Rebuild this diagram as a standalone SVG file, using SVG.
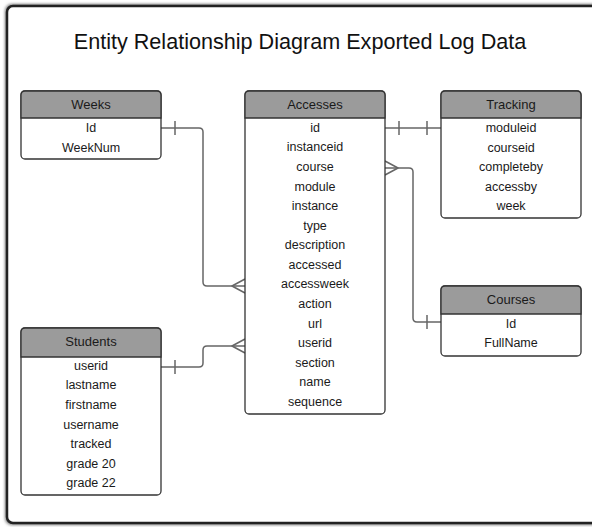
<svg xmlns="http://www.w3.org/2000/svg" width="592" height="527" viewBox="0 0 592 527">
<defs>
<filter id="sh" x="-5%" y="-5%" width="110%" height="110%">
<feGaussianBlur stdDeviation="1.5"/>
</filter>
<style>
.frame{fill:#fff;stroke:#222;stroke-width:2.5}
.box{fill:#fff;stroke:#333;stroke-width:1.3}
.hd{fill:#9b9b9b;stroke:#333;stroke-width:1.3}
.t{font-family:"Liberation Sans",Arial,sans-serif;font-size:12.5px;fill:#1a1a1a;text-anchor:middle}
.h{font-family:"Liberation Sans",Arial,sans-serif;font-size:13px;fill:#1a1a1a;text-anchor:middle}
.title{font-family:"Liberation Sans",Arial,sans-serif;font-size:21.6px;fill:#111;text-anchor:middle}
.c{fill:none;stroke:#666;stroke-width:1.5;stroke-linejoin:round}
</style>
</defs>
<rect x="5" y="4" width="604" height="521" rx="7" fill="#777" filter="url(#sh)"/>
<rect class="frame" x="7" y="6" width="600" height="517" rx="6"/>
<text class="title" x="300" y="49">Entity Relationship Diagram Exported Log Data</text>

<g id="connectors">
<!-- Weeks to Accesses -->
<path class="c" d="M161,128 H199 Q203,128 203,132 V282 Q203,286 207,286 H245"/>
<line class="c" x1="175" y1="121" x2="175" y2="135"/>
<path class="c" d="M245,279 L232,286 L245,293"/>
<!-- Students to Accesses -->
<path class="c" d="M161,367 H199 Q203,367 203,363 V350 Q203,346 207,346 H245"/>
<line class="c" x1="175" y1="360" x2="175" y2="374"/>
<path class="c" d="M245,339 L232,346 L245,353"/>
<!-- Accesses to Tracking -->
<path class="c" d="M385,128 H441"/>
<line class="c" x1="399" y1="121" x2="399" y2="135"/>
<line class="c" x1="427" y1="121" x2="427" y2="135"/>
<!-- Accesses to Courses -->
<path class="c" d="M385,168 H409 Q413,168 413,172 V318 Q413,322 417,322 H441"/>
<path class="c" d="M385,161 L398,168 L385,175"/>
<line class="c" x1="427" y1="315" x2="427" y2="329"/>
</g>

<g id="weeks">
<rect class="box" x="21" y="91" width="140" height="68" rx="4"/>
<path class="hd" d="M21,118 V95 Q21,91 25,91 H157 Q161,91 161,95 V118 Z"/>
<text class="h" x="91" y="109">Weeks</text>
<text class="t" x="91" y="132">Id</text>
<text class="t" x="91" y="152">WeekNum</text>
</g>

<g id="accesses">
<rect class="box" x="245" y="91" width="140" height="323" rx="4"/>
<path class="hd" d="M245,118 V95 Q245,91 249,91 H381 Q385,91 385,95 V118 Z"/>
<text class="h" x="315" y="109">Accesses</text>
<text class="t" x="315" y="132">id</text>
<text class="t" x="315" y="151">instanceid</text>
<text class="t" x="315" y="171">course</text>
<text class="t" x="315" y="191">module</text>
<text class="t" x="315" y="210">instance</text>
<text class="t" x="315" y="230">type</text>
<text class="t" x="315" y="249">description</text>
<text class="t" x="315" y="269">accessed</text>
<text class="t" x="315" y="288">accessweek</text>
<text class="t" x="315" y="308">action</text>
<text class="t" x="315" y="328">url</text>
<text class="t" x="315" y="347">userid</text>
<text class="t" x="315" y="367">section</text>
<text class="t" x="315" y="386">name</text>
<text class="t" x="315" y="406">sequence</text>
</g>

<g id="tracking">
<rect class="box" x="441" y="91" width="140" height="127" rx="4"/>
<path class="hd" d="M441,118 V95 Q441,91 445,91 H577 Q581,91 581,95 V118 Z"/>
<text class="h" x="511" y="109">Tracking</text>
<text class="t" x="511" y="132">moduleid</text>
<text class="t" x="511" y="152">courseid</text>
<text class="t" x="511" y="171">completeby</text>
<text class="t" x="511" y="191">accessby</text>
<text class="t" x="511" y="210">week</text>
</g>

<g id="courses">
<rect class="box" x="441" y="286" width="140" height="70" rx="4"/>
<path class="hd" d="M441,314 V290 Q441,286 445,286 H577 Q581,286 581,290 V314 Z"/>
<text class="h" x="511" y="304">Courses</text>
<text class="t" x="511" y="328">Id</text>
<text class="t" x="511" y="347">FullName</text>
</g>

<g id="students">
<rect class="box" x="21" y="328" width="140" height="167" rx="4"/>
<path class="hd" d="M21,357 V332 Q21,328 25,328 H157 Q161,328 161,332 V357 Z"/>
<text class="h" x="91" y="346">Students</text>
<text class="t" x="91" y="370">userid</text>
<text class="t" x="91" y="389">lastname</text>
<text class="t" x="91" y="409">firstname</text>
<text class="t" x="91" y="429">username</text>
<text class="t" x="91" y="448">tracked</text>
<text class="t" x="91" y="468">grade 20</text>
<text class="t" x="91" y="487">grade 22</text>
</g>
</svg>
